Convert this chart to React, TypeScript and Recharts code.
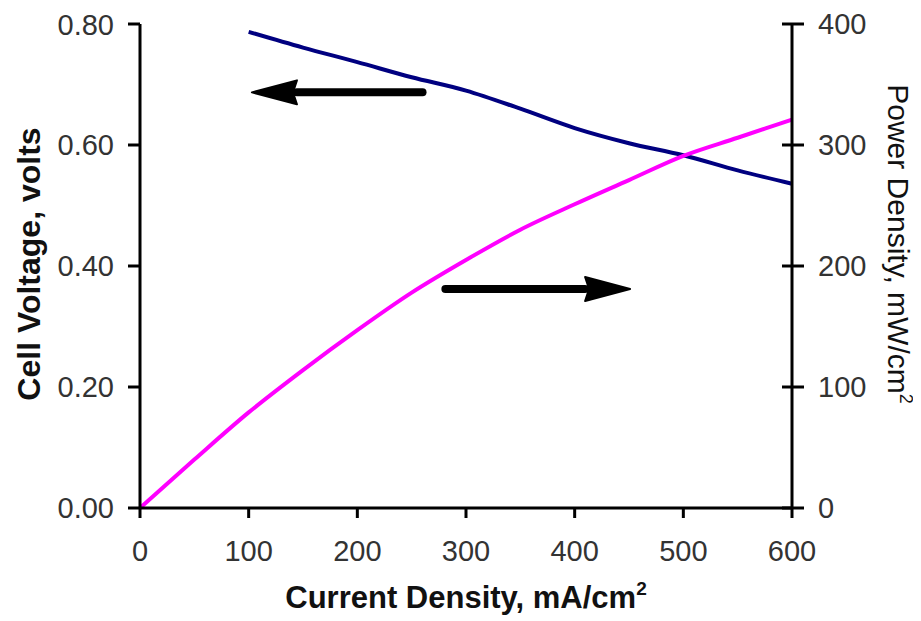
import React from 'react';
import { LineChart, Line, XAxis, YAxis, ReferenceLine, Label } from 'recharts';

const currents = [0, 50, 100, 150, 200, 250, 300, 350, 400, 450, 500, 550, 600];
const voltages = [null, null, 0.787, 0.761, 0.737, 0.712, 0.69, 0.66, 0.628, 0.603, 0.583, 0.558, 0.536];
const powers = [0, 40, 79, 114, 147, 178, 205, 230, 251, 271, 291, 306, 321];

const xTicks = [0, 100, 200, 300, 400, 500, 600];
const voltTicks = [0, 0.2, 0.4, 0.6, 0.8];
const powerTicks = [0, 100, 200, 300, 400];

// annotation arrows: tail x -> tip x at a given y
const arrows = [
  { from: 260, to: 103, y: 0.687, axis: 'volt' },
  { from: 281, to: 451, y: 181, axis: 'power' },
];

const data = currents.map((c, i) => ({ current: c, voltage: voltages[i], power: powers[i] }));

const FONT = '"Liberation Sans", Arial, sans-serif';

const ArrowShape = (props: any) => {
  const { x1, y1, x2, y2 } = props;
  const dir = x2 > x1 ? 1 : -1;
  const baseX = x2 - dir * 45;
  return (
    <g>
      <line x1={x1} y1={y1} x2={baseX} y2={y2} stroke="#000" strokeWidth={8} strokeLinecap="round" />
      <polygon points={`${x2},${y2} ${baseX},${y2 - 12} ${baseX + dir * 4},${y2} ${baseX},${y2 + 12}`} fill="#000" stroke="#000" strokeWidth={2} strokeLinejoin="round" />
    </g>
  );
};

const RightTick = (props: any) => {
  const { x, y, payload } = props;
  return (
    <g>
      <line x1={x - 10} y1={y} x2={x + 12} y2={y} stroke="#000" strokeWidth={3} />
      <text x={x + 26} y={y} dy="0.355em" textAnchor="start" fill="#333" fontSize={29} fontFamily={FONT}>
        {payload.value}
      </text>
    </g>
  );
};

export default function App() {
  return (
    <div style={{ fontFamily: FONT }}>
      <LineChart width={913} height={613} data={data} margin={{ top: 16, right: 0, bottom: 0, left: 0 }}>
        <XAxis
          dataKey="current"
          type="number"
          domain={[0, 600]}
          ticks={xTicks}
          height={113}
          tickSize={10}
          tickMargin={22}
          axisLine={{ stroke: '#000', strokeWidth: 3 }}
          tickLine={{ stroke: '#000', strokeWidth: 3 }}
          tick={{ fill: '#333', fontSize: 29, fontFamily: FONT }}
        >
          <Label
            content={(p: any) => {
              const vb = p.viewBox;
              return (
                <text x={vb.x + vb.width / 2} y={600} textAnchor="middle" fontSize={31} fontWeight="bold" fontFamily={FONT} fill="#111">
                  Current Density, mA/cm<tspan fontSize={19} dy={-13}>2</tspan>
                </text>
              );
            }}
          />
        </XAxis>
        <YAxis
          yAxisId="volt"
          domain={[0, 0.8]}
          ticks={voltTicks}
          width={132}
          tickSize={12}
          tickMargin={14}
          tickFormatter={(v: number) => v.toFixed(2)}
          axisLine={{ stroke: '#000', strokeWidth: 3 }}
          tickLine={{ stroke: '#000', strokeWidth: 3 }}
          tick={{ fill: '#333', fontSize: 29, fontFamily: FONT }}
        >
          <Label
            content={() => (
              <text x={21} y={256} transform="rotate(-90 21 256)" textAnchor="middle" dy="0.355em" fontSize={32} fontWeight="bold" fontFamily={FONT} fill="#111">
                Cell Voltage, volts
              </text>
            )}
          />
        </YAxis>
        <YAxis
          yAxisId="power"
          orientation="right"
          domain={[0, 400]}
          ticks={powerTicks}
          width={129}
          tickSize={0}
          tickMargin={0}
          tickLine={false}
          axisLine={{ stroke: '#000', strokeWidth: 3 }}
          tick={<RightTick />}
        >
          <Label
            content={() => (
              <text x={891} y={236} transform="rotate(90 891 236)" textAnchor="middle" dy="0.355em" fontSize={30} fontFamily={FONT} fill="#111">
                Power Density, mW/cm<tspan fontSize={18} dy={-12}>2</tspan>
              </text>
            )}
          />
        </YAxis>
        <Line yAxisId="volt" dataKey="voltage" type="monotone" stroke="#000080" strokeWidth={4} dot={false} isAnimationActive={false} />
        <Line yAxisId="power" dataKey="power" type="monotone" stroke="#ff00ff" strokeWidth={4} dot={false} isAnimationActive={false} />
        {arrows.map((a, i) => (
          <ReferenceLine
            key={i}
            yAxisId={a.axis}
            segment={[{ x: a.from, y: a.y }, { x: a.to, y: a.y }]}
            ifOverflow="visible"
            shape={ArrowShape}
          />
        ))}
      </LineChart>
    </div>
  );
}
